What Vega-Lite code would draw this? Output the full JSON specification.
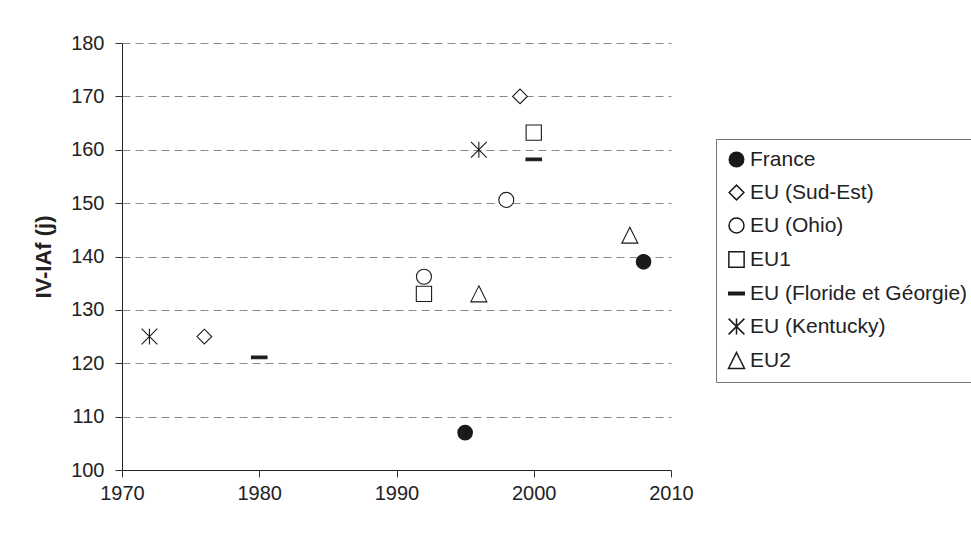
{
  "$schema": "https://vega.github.io/schema/vega-lite/v6.json",
  "width": 549,
  "height": 427,
  "autosize": {"type": "none"},
  "padding": {"left": 122, "top": 43, "right": 300, "bottom": 63},
  "background": "white",
  "config": {
    "view": {"stroke": null},
    "font": "Liberation Sans",
    "axis": {"labelColor": "#222", "domainColor": "#222", "tickColor": "#333", "tickSize": 7, "labelFontSize": 20, "labelFontWeight": "normal", "labelFlush": false}
  },
  "data": {
    "values": [
      {"series": "France", "year": 1995, "value": 107},
      {"series": "France", "year": 2008, "value": 139},
      {"series": "EU (Sud-Est)", "year": 1976, "value": 125},
      {"series": "EU (Sud-Est)", "year": 1999, "value": 170},
      {"series": "EU (Ohio)", "year": 1992, "value": 136.2},
      {"series": "EU (Ohio)", "year": 1998, "value": 150.6},
      {"series": "EU1", "year": 1992, "value": 133},
      {"series": "EU1", "year": 2000, "value": 163.2},
      {"series": "EU (Floride et Géorgie)", "year": 1980, "value": 121.1},
      {"series": "EU (Floride et Géorgie)", "year": 2000, "value": 158.2},
      {"series": "EU (Kentucky)", "year": 1972, "value": 125},
      {"series": "EU (Kentucky)", "year": 1996, "value": 160},
      {"series": "EU2", "year": 1996, "value": 133},
      {"series": "EU2", "year": 2007, "value": 144}
    ]
  },
  "mark": {"type": "point", "opacity": 1, "stroke": "#1a1a1a", "strokeWidth": 1.1},
  "encoding": {
    "x": {
      "field": "year", "type": "quantitative",
      "scale": {"domain": [1970, 2010], "nice": false, "zero": false},
      "axis": {"values": [1970, 1980, 1990, 2000, 2010], "format": "d", "grid": false, "title": null, "labelPadding": 6}
    },
    "y": {
      "field": "value", "type": "quantitative",
      "scale": {"domain": [100, 180], "nice": false, "zero": false},
      "axis": {
        "values": [100, 110, 120, 130, 140, 150, 160, 170, 180],
        "grid": true, "gridDash": [8, 5], "gridColor": "#888", "gridWidth": 1.2,
        "gridOpacity": {"condition": {"test": "datum.value === 100", "value": 0}, "value": 1},
        "labelPadding": 11,
        "title": "IV-IAf (j)", "titleFontSize": 22, "titleFontWeight": "bold", "titleColor": "#222", "titlePadding": 15
      }
    },
    "shape": {
      "field": "series", "type": "nominal",
      "scale": {
        "domain": ["France", "EU (Sud-Est)", "EU (Ohio)", "EU1", "EU (Floride et Géorgie)", "EU (Kentucky)", "EU2"],
        "range": ["circle", "diamond", "circle", "square", "M-1,-0.17L1,-0.17L1,0.17L-1,0.17Z", "M-1,-1L1,1M-1,1L1,-1M0,-1L0,1", "M0,-1L1,1L-1,1Z"]
      },
      "legend": {
        "title": null, "orient": "none", "legendX": 594, "legendY": 96,
        "strokeColor": "#777", "padding": 10, "rowPadding": 11,
        "labelFontSize": 21, "labelColor": "#222", "labelOffset": 3, "labelLimit": 400,
        "symbolStrokeColor": "#1a1a1a", "symbolOpacity": 1
      }
    },
    "fill": {
      "field": "series", "type": "nominal",
      "scale": {
        "domain": ["France", "EU (Sud-Est)", "EU (Ohio)", "EU1", "EU (Floride et Géorgie)", "EU (Kentucky)", "EU2"],
        "range": ["#1a1a1a", "white", "white", "white", "#1a1a1a", "white", "white"]
      }
    },
    "size": {
      "field": "series", "type": "nominal",
      "scale": {
        "domain": ["France", "EU (Sud-Est)", "EU (Ohio)", "EU1", "EU (Floride et Géorgie)", "EU (Kentucky)", "EU2"],
        "range": [210, 256, 225, 210, 280, 240, 270]
      }
    }
  }
}
